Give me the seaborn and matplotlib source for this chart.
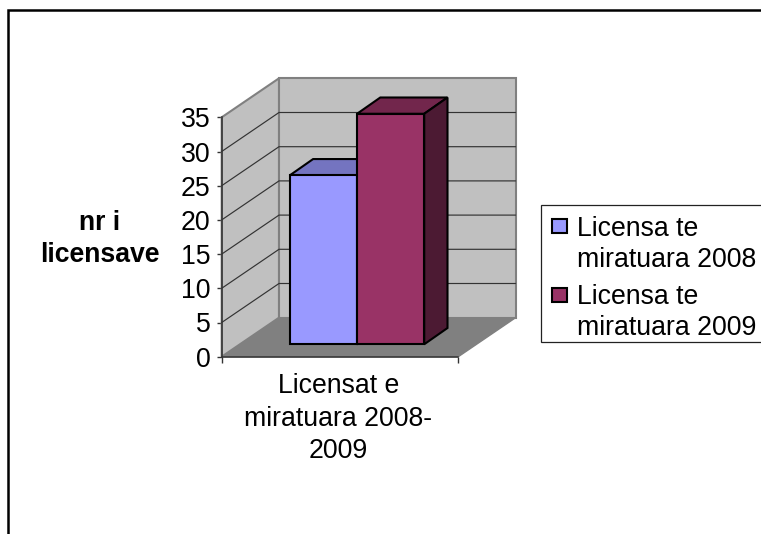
import matplotlib
matplotlib.use("Agg")
import matplotlib.pyplot as plt
from matplotlib.patches import Rectangle, Polygon
import pandas as pd
import seaborn as sns

category = ["Licensat e\nmiratuara 2008-\n2009"]
series = ["Licensa te\nmiratuara 2008", "Licensa te\nmiratuara 2009"]
values = [24.7, 33.7]
yticks = [0, 5, 10, 15, 20, 25, 30, 35]
ylabel = "nr i\nlicensave"
front = ["#9999ff", "#993366"]
top = ["#7474c0", "#72264c"]
side = ["#5c5c99", "#4c1a33"]

W, H = 761, 534
sns.set_theme(style="white")
plt.rcParams["font.family"] = ["Liberation Sans", "DejaVu Sans"]
FS = 19.2

fig = plt.figure(figsize=(W / 100, H / 100), dpi=100)
L, R, T, B = 221.7, 458.3, 117.3, 356.7
ax = fig.add_axes([L / W, 1 - B / H, (R - L) / W, (B - T) / H])
ax.patch.set_alpha(0)

df = pd.DataFrame({"cat": category * 2, "series": series, "val": values})
sns.barplot(data=df, x="cat", y="val", hue="series", palette=front, saturation=1,
            width=0.8, gap=0, edgecolor="black", linewidth=1.5, legend=False, ax=ax, zorder=5)

ux, uy = 168.0, (B - T) / 35
xlo, xhi = -(357.0 - L) / ux, (R - 357.0) / ux
ax.set_xlim(xlo, xhi)
ax.set_ylim(0, 35)
DX, DY = 57.3 / ux, 39.0 / uy        # full depth of the box
lift_y = 12.4 / uy                   # bars stand inside the floor
bar_dx, bar_dy = 23.3 / ux, 16.3 / uy

# walls and floor
ax.add_patch(Polygon([(xlo, 0), (xlo + DX, DY), (xhi + DX, DY), (xhi, 0)], closed=True,
                     fc="#808080", ec="#808080", lw=1, clip_on=False, zorder=1))
ax.add_patch(Polygon([(xlo, 0), (xlo + DX, DY), (xlo + DX, 35 + DY), (xlo, 35)], closed=True,
                     fc="#c0c0c0", ec="#808080", lw=1.5, clip_on=False, zorder=1))
ax.add_patch(Polygon([(xlo + DX, DY), (xhi + DX, DY), (xhi + DX, 35 + DY), (xlo + DX, 35 + DY)], closed=True,
                     fc="#c0c0c0", ec="#808080", lw=1.5, clip_on=False, zorder=1))
for v in yticks[1:-1]:
    ax.plot([xlo, xlo + DX, xhi + DX], [v, v + DY, v + DY], color="#333333", lw=0.85,
            clip_on=False, zorder=2, solid_joinstyle="miter")

# bars: shift the front faces up and add the depth faces
bars = [q for q in ax.patches if isinstance(q, Rectangle)][:2]
for i, p in enumerate(bars):
    p.set_y(lift_y)
    p.set_clip_on(False)
    x0, x1 = p.get_x(), p.get_x() + p.get_width()
    y1 = lift_y + p.get_height()
    z = 3 + i
    ax.add_patch(Polygon([(x0, y1), (x0 + bar_dx, y1 + bar_dy), (x1 + bar_dx, y1 + bar_dy), (x1, y1)], closed=True,
                         fc=top[i], ec="black", lw=1.5, clip_on=False, zorder=z))
    ax.add_patch(Polygon([(x1, lift_y), (x1 + bar_dx, lift_y + bar_dy), (x1 + bar_dx, y1 + bar_dy), (x1, y1)], closed=True,
                         fc=side[i], ec="black", lw=1.5, clip_on=False, zorder=z))

# axes
for s in ["top", "right"]:
    ax.spines[s].set_visible(False)
for s in ["left", "bottom"]:
    ax.spines[s].set_color("#333333")
    ax.spines[s].set_linewidth(1.1)
    ax.spines[s].set_zorder(6)
ax.set_yticks(yticks)
ax.set_yticklabels([str(v) for v in yticks], fontsize=FS, color="black")
ax.tick_params(axis="y", left=True, length=3.5, width=1, color="#333333", pad=4.5)
ax.set_xticks([(xlo + xhi) / 2 - 0.01])
ax.set_xticklabels(category, fontsize=FS, color="black", linespacing=1.32)
ax.tick_params(axis="x", which="major", bottom=False, pad=6)
ax.set_xticks([xlo, xhi], minor=True)
ax.tick_params(axis="x", which="minor", bottom=True, length=4.3, width=1, color="#333333")
ax.set_xlabel("")
ax.set_ylabel("")
fig.text(100 / W, 1 - 239 / H, ylabel, fontsize=FS, fontweight="bold", ha="center", va="center",
         linespacing=1.32, color="black")

# legend box, cut by the picture edge as in the source
fig.add_artist(Rectangle((541 / W, 1 - 342.3 / H), 240 / W, 137.3 / H, transform=fig.transFigure,
                         fc="white", ec="#222222", lw=0.9))
for i, (name, sy, by) in enumerate(zip(series, [219, 288], [267, 335])):
    fig.add_artist(Rectangle((552 / W, 1 - (sy + 14) / H), 15 / W, 14 / H, transform=fig.transFigure,
                             fc=front[i], ec="black", lw=1.5))
    fig.text(577 / W, 1 - by / H, name, fontsize=FS, ha="left", va="baseline",
             linespacing=1.235, color="black")

# outer chart frame, cut by the picture edge
fig.add_artist(plt.Line2D([7.5 / W, 7.5 / W, 1.02], [-0.02, 1 - 10 / H, 1 - 10 / H],
                          transform=fig.transFigure, color="black", lw=1.8, solid_joinstyle="miter"))

fig.savefig("out.png", dpi=100)
